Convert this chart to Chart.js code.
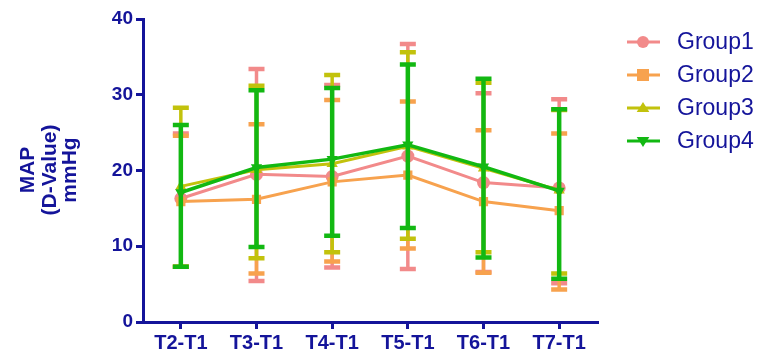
<!DOCTYPE html>
<html>
<head>
<meta charset="utf-8">
<script src="https://cdn.jsdelivr.net/npm/chart.js@4.4.1/dist/chart.umd.min.js"></script>
<style>
html,body{margin:0;padding:0;background:#fff;}
#wrap{width:761px;height:357px;position:relative;}
</style>
</head>
<body>
<div id="wrap"><canvas id="c" width="761" height="357"></canvas></div>
<script>
const categories = ['T2-T1', 'T3-T1', 'T4-T1', 'T5-T1', 'T6-T1', 'T7-T1'];
const yTicks = [0, 10, 20, 30, 40];
const seriesNames = ['Group1', 'Group2', 'Group3', 'Group4'];

const g1Mean  = [16.3, 19.5, 19.2, 21.9, 18.4, 17.7];
const g1Upper = [24.9, 33.4, 31.3, 36.7, 30.2, 29.4];
const g1Lower = [7.3, 5.4, 7.2, 7.0, 6.6, 5.1];

const g2Mean  = [15.9, 16.2, 18.5, 19.4, 15.9, 14.7];
const g2Upper = [24.6, 26.1, 29.3, 29.1, 25.3, 24.9];
const g2Lower = [7.3, 6.4, 8.0, 9.7, 6.5, 4.3];

const g3Mean  = [17.9, 20.1, 20.9, 23.2, 20.3, 17.4];
const g3Upper = [28.3, 31.2, 32.6, 35.6, 31.6, 28.0];
const g3Lower = [7.3, 8.4, 9.2, 11.0, 9.2, 6.4];

const g4Mean  = [17.1, 20.4, 21.5, 23.4, 20.5, 17.3];
const g4Upper = [26.0, 30.6, 30.9, 34.0, 32.1, 28.1];
const g4Lower = [7.3, 9.9, 11.4, 12.4, 8.5, 5.7];

const NAVY = '#14149a';
const FONT = '"Liberation Sans", Arial, sans-serif';
const colors = ['#f28a8a', '#f7a24e', '#c2c20c', '#12b812'];
const shapes = ['circle', 'rect', 'triangle', 'triangle'];
const rotations = [0, 0, 0, 180];
const lineWidths = [3, 3, 3, 3.5];
const barWidths = [3.5, 3.5, 3.5, 4.5];

const means = [g1Mean, g2Mean, g3Mean, g4Mean];
const uppers = [g1Upper, g2Upper, g3Upper, g4Upper];
const lowers = [g1Lower, g2Lower, g3Lower, g4Lower];

function drawMarker(ctx, shape, rot, x, y, r, color) {
  ctx.save();
  ctx.fillStyle = color;
  ctx.translate(x, y);
  ctx.rotate(rot * Math.PI / 180);
  ctx.beginPath();
  if (shape === 'circle') {
    ctx.arc(0, 0, r, 0, Math.PI * 2);
  } else if (shape === 'rect') {
    ctx.rect(-r, -r, 2 * r, 2 * r);
  } else {
    const h = r * 1.5;
    ctx.moveTo(0, -h * 0.66);
    ctx.lineTo(r * 1.05, h * 0.45);
    ctx.lineTo(-r * 1.05, h * 0.45);
    ctx.closePath();
  }
  ctx.fill();
  ctx.restore();
}

const errorBarPlugin = {
  id: 'errorBars',
  beforeDatasetDraw(chart, args) {
    const i = args.index;
    const ctx = chart.ctx;
    const xs = chart.scales.x, ys = chart.scales.y;
    ctx.save();
    ctx.strokeStyle = colors[i];
    ctx.lineCap = 'butt';
    const cap = 8;
    for (let k = 0; k < categories.length; k++) {
      const x = xs.getPixelForValue(k);
      const yu = ys.getPixelForValue(uppers[i][k]);
      const yl = ys.getPixelForValue(lowers[i][k]);
      ctx.lineWidth = barWidths[i];
      ctx.beginPath();
      ctx.moveTo(x, yu); ctx.lineTo(x, yl);
      ctx.stroke();
      ctx.lineWidth = 4.5;
      ctx.beginPath();
      ctx.moveTo(x - cap, yu); ctx.lineTo(x + cap, yu);
      ctx.moveTo(x - cap, yl); ctx.lineTo(x + cap, yl);
      ctx.stroke();
    }
    ctx.restore();
  }
};

const extrasPlugin = {
  id: 'extras',
  afterDraw(chart) {
    const ctx = chart.ctx;
    ctx.save();
    ctx.fillStyle = NAVY;
    ctx.font = 'bold 21px ' + FONT;
    ctx.textAlign = 'center';
    ctx.textBaseline = 'middle';
    const titleLines = ['MAP', '(D-Value)', 'mmHg'];
    const xsT = [28, 50, 70];
    titleLines.forEach((t, j) => {
      ctx.save();
      ctx.translate(xsT[j], 170);
      ctx.rotate(-Math.PI / 2);
      ctx.fillText(t, 0, 0);
      ctx.restore();
    });
    const ly = [42, 75, 108, 141];
    ctx.font = '23px ' + FONT;
    ctx.textAlign = 'left';
    seriesNames.forEach((name, j) => {
      ctx.strokeStyle = colors[j];
      ctx.lineWidth = 3;
      ctx.beginPath();
      ctx.moveTo(627, ly[j]); ctx.lineTo(660, ly[j]);
      ctx.stroke();
      drawMarker(ctx, shapes[j], rotations[j], 643, ly[j], 6, colors[j]);
      ctx.fillStyle = NAVY;
      ctx.fillText(name, 677, ly[j] + 1);
    });
    ctx.restore();
  }
};

const datasets = seriesNames.map((name, i) => ({
  label: name,
  data: means[i],
  borderColor: colors[i],
  backgroundColor: colors[i],
  borderWidth: lineWidths[i],
  pointStyle: shapes[i],
  pointRotation: rotations[i],
  pointRadius: 6.5,
  pointBorderWidth: 0,
  pointBackgroundColor: colors[i],
  tension: 0,
  order: 4 - i
}));

new Chart(document.getElementById('c'), {
  type: 'line',
  data: { labels: categories, datasets },
  options: {
    responsive: false,
    animation: false,
    devicePixelRatio: 1,
    layout: { padding: { left: 0, right: 164, top: 19, bottom: 0 } },
    plugins: { legend: { display: false }, tooltip: { enabled: false } },
    scales: {
      x: {
        offset: true,
        afterFit(s) { s.height = 35; },
        grid: { offset: false, drawOnChartArea: false, drawTicks: true, tickLength: 7, color: NAVY, lineWidth: 3 },
        border: { color: NAVY, width: 3 },
        ticks: { color: NAVY, font: { family: FONT, size: 20, weight: 'bold' }, padding: 2, maxRotation: 0 }
      },
      y: {
        min: 0, max: 40,
        afterFit(s) { s.width = 143; },
        afterBuildTicks(s) { s.ticks = yTicks.map(v => ({ value: v })); },
        grid: { drawOnChartArea: false, drawTicks: true, tickLength: 7, color: NAVY, lineWidth: 3 },
        border: { color: NAVY, width: 3 },
        ticks: { color: NAVY, font: { family: FONT, size: 19, weight: 'bold' }, padding: 3 }
      }
    }
  },
  plugins: [errorBarPlugin, extrasPlugin]
});
</script>
</body>
</html>
